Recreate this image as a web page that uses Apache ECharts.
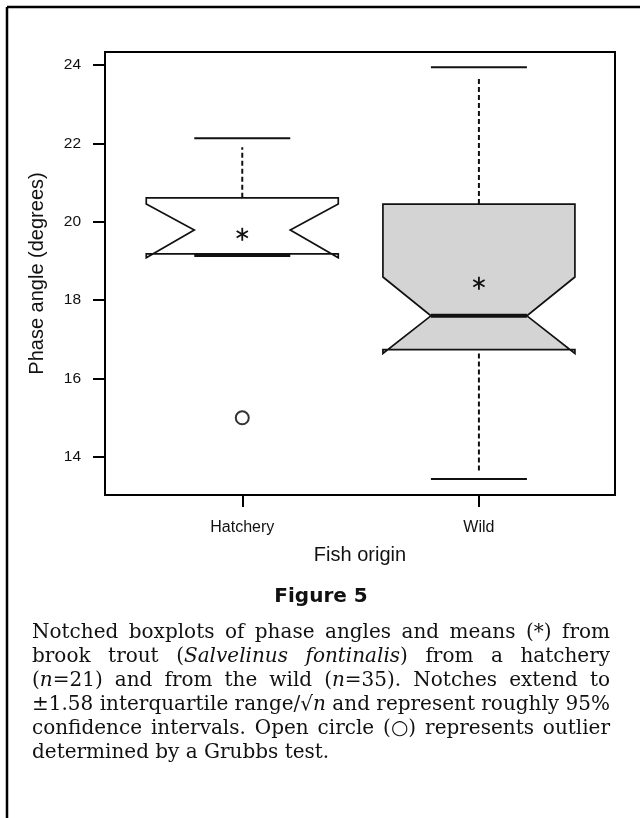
<!DOCTYPE html>
<html>
<head>
<meta charset="utf-8">
<script src="https://cdn.jsdelivr.net/npm/echarts@6/dist/echarts.min.js"></script>
<style>
  html, body { margin: 0; padding: 0; background: #fff; }
  #main { width: 640px; height: 818px; }
</style>
</head>
<body>
<div id="main"></div>
<script>
// data
var groups = ['Hatchery', 'Wild'];
var whiskerHi = [22.13, 23.94];
var q3 = [20.61, 20.45];
var notchHi = [20.45, 18.59];
var waist = [19.79, 17.60];
var notchLo = [19.08, 16.64];
var q1 = [19.18, 16.74];
var median = [19.15, 17.60];
var whiskerLo = [19.18, 13.44];
var means = [19.68, 18.43];
var outliers = [[1, 15.0]];
var yTicks = [14, 16, 18, 20, 22, 24];

var fills = ['#ffffff', '#d4d4d4'];
var SANS = "'Liberation Sans', Arial, sans-serif";
var SERIF = "'DejaVu Serif', serif";

var captionLines = [
    [['Notched boxplots of phase angles and means (*) from', 0]],
    [['brook trout (', 0], ['Salvelinus fontinalis', 1], [') from a hatchery', 0]],
    [['(', 0], ['n', 1], ['=21) and from the wild (', 0], ['n', 1], ['=35). Notches extend to', 0]],
    [['\u00b11.58 interquartile range/\u221a', 0], ['n', 1], [' and represent roughly 95%', 0]],
    [['confidence intervals. Open circle (\u25cb) represents outlier', 0]],
    [['determined by a Grubbs test.', 0]]
];

var CAP_SIZE = 20;
var ctx = document.createElement('canvas').getContext('2d');
function capFont(it) { return (it ? 'italic ' : '') + CAP_SIZE + 'px ' + SERIF; }
function measure(t, it) { ctx.font = capFont(it); return ctx.measureText(t).width; }

function captionGraphics() {
    var out = [];
    var x0 = 32, x1 = 610, y0 = 633, lh = 24;
    captionLines.forEach(function (line, li) {
        var words = [], cur = [];
        line.forEach(function (run) {
            var parts = run[0].split(' ');
            parts.forEach(function (p, j) {
                if (j > 0) { if (cur.length) words.push(cur); cur = []; }
                if (p !== '') cur.push([p, run[1]]);
            });
        });
        if (cur.length) words.push(cur);
        var widths = words.map(function (wd) {
            return wd.reduce(function (s, r) { return s + measure(r[0], r[1]); }, 0);
        });
        var total = widths.reduce(function (a, b) { return a + b; }, 0);
        var last = li === captionLines.length - 1;
        var gap = last ? measure(' ', 0) : (x1 - x0 - total) / (words.length - 1);
        var squeeze = 1;
        if (gap < 3) { gap = 3; squeeze = (x1 - x0 - 3 * (words.length - 1)) / total; }
        var x = x0;
        words.forEach(function (wd, k) {
            var rx = x;
            wd.forEach(function (r) {
                out.push({
                    type: 'text', x: rx, y: y0 + li * lh, scaleX: squeeze,
                    style: { text: r[0], font: capFont(r[1]), fill: '#111',
                        align: 'left', verticalAlign: 'middle',
                        textAlign: 'left', textVerticalAlign: 'middle' }
                });
                rx += measure(r[0], r[1]) * squeeze;
            });
            x += widths[k] * squeeze + gap;
        });
    });
    return out;
}

var myChart = echarts.init(document.getElementById('main'));

function renderBox(params, api) {
    var i = api.value(1);
    var gx = api.value(0);
    var cx = api.coord([gx, q3[i]])[0];
    var y = function (v) { return api.coord([gx, v])[1]; };
    var BW = 96, NW = 48, CW = 48;
    var black = '#111';
    var kids = [];
    kids.push({
        type: 'polygon',
        shape: { points: [
            [cx - BW, y(q3[i])], [cx + BW, y(q3[i])], [cx + BW, y(notchHi[i])],
            [cx + NW, y(waist[i])], [cx + BW, y(notchLo[i])], [cx + BW, y(q1[i])],
            [cx - BW, y(q1[i])], [cx - BW, y(notchLo[i])], [cx - NW, y(waist[i])],
            [cx - BW, y(notchHi[i])]
        ] },
        style: { fill: fills[i], stroke: black, lineWidth: 1.7 }
    });
    kids.push({
        type: 'line',
        shape: { x1: cx - NW, y1: y(median[i]), x2: cx + NW, y2: y(median[i]) },
        style: { stroke: black, lineWidth: 4 }
    });
    if (whiskerHi[i] > q3[i]) {
        kids.push({ type: 'line',
            shape: { x1: cx, y1: y(q3[i]), x2: cx, y2: y(whiskerHi[i]) + 9 },
            style: { stroke: black, lineWidth: 2, lineDash: [5, 3] } });
        kids.push({ type: 'line',
            shape: { x1: cx - CW, y1: y(whiskerHi[i]), x2: cx + CW, y2: y(whiskerHi[i]) },
            style: { stroke: black, lineWidth: 2 } });
    }
    if (whiskerLo[i] < q1[i]) {
        kids.push({ type: 'line',
            shape: { x1: cx, y1: y(Math.min(q1[i], notchLo[i])), x2: cx, y2: y(whiskerLo[i]) - 7 },
            style: { stroke: black, lineWidth: 2, lineDash: [5, 3] } });
        kids.push({ type: 'line',
            shape: { x1: cx - CW, y1: y(whiskerLo[i]), x2: cx + CW, y2: y(whiskerLo[i]) },
            style: { stroke: black, lineWidth: 2 } });
    }
    // mean asterisk
    var my = y(means[i]), r = 6.5;
    [90, 30, 150].forEach(function (deg) {
        var a = deg * Math.PI / 180;
        kids.push({ type: 'line',
            shape: { x1: cx - r * Math.cos(a), y1: my - r * Math.sin(a),
                     x2: cx + r * Math.cos(a), y2: my + r * Math.sin(a) },
            style: { stroke: black, lineWidth: 1.8 } });
    });
    return { type: 'group', children: kids };
}

myChart.setOption({
    animation: false,
    backgroundColor: '#fff',
    grid: {
        left: 105, top: 52, right: 25, bottom: 323,
        show: true, borderColor: '#000', borderWidth: 2, backgroundColor: 'transparent'
    },
    xAxis: {
        type: 'value', min: 0.42, max: 2.575,
        name: 'Fish origin', nameLocation: 'middle', nameGap: 50,
        nameTextStyle: { fontFamily: SANS, fontSize: 20, color: '#111' },
        axisLine: { show: false },
        splitLine: { show: false },
        axisTick: { length: 12, lineStyle: { color: '#000', width: 2 }, customValues: [1, 2] },
        axisLabel: {
            customValues: [1, 2], margin: 25,
            fontFamily: SANS, fontSize: 16, color: '#111',
            formatter: function (v) { return groups[Math.round(v) - 1] || ''; }
        }
    },
    yAxis: {
        type: 'value', min: 13.03, max: 24.33,
        name: 'Phase angle (degrees)', nameLocation: 'middle', nameGap: 58,
        nameTextStyle: { fontFamily: SANS, fontSize: 20, color: '#111' },
        axisLine: { show: false },
        splitLine: { show: false },
        axisTick: { length: 12, lineStyle: { color: '#000', width: 2 }, customValues: yTicks },
        axisLabel: { customValues: yTicks, margin: 24, fontFamily: SANS, fontSize: 15.5, color: '#111' }
    },
    graphic: [
        { type: 'line', shape: { x1: 7, y1: 7, x2: 640, y2: 7 }, style: { stroke: '#000', lineWidth: 2.5 } },
        { type: 'line', shape: { x1: 7, y1: 7, x2: 7, y2: 818 }, style: { stroke: '#000', lineWidth: 2.5 } },
        { type: 'text', x: 321, y: 597,
          style: { text: 'Figure 5', font: "bold 20px 'DejaVu Sans', sans-serif", fill: '#111',
                   align: 'center', verticalAlign: 'middle', textAlign: 'center', textVerticalAlign: 'middle' } }
    ].concat(captionGraphics()),
    series: [
        {
            type: 'custom',
            renderItem: renderBox,
            data: groups.map(function (g, i) { return [i + 1, i]; }),
            z: 3
        },
        {
            type: 'scatter',
            data: outliers,
            symbol: 'circle',
            symbolSize: 13,
            itemStyle: { color: '#fff', borderColor: '#000', borderWidth: 2 },
            z: 4
        }
    ]
});
</script>
</body>
</html>
